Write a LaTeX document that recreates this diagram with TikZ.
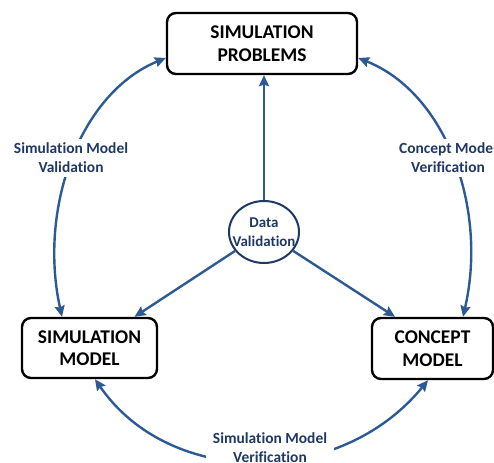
\documentclass[tikz,border=0pt]{standalone}
\usepackage{fontspec}
\setmainfont{Carlito}[Ligatures={NoCommon,NoRequired}]
\usetikzlibrary{arrows.meta,shapes.geometric,calc}
\definecolor{arrowblue}{HTML}{2E5A94}
\definecolor{navy}{HTML}{1F3864}
\begin{document}
\begin{tikzpicture}[x=1bp,y=1bp,
  box/.style={draw=black,line width=2.4bp,rounded corners=9bp,font=\fontsize{19.5}{22.5}\selectfont\bfseries,align=center,inner sep=0pt},
  conn/.style={draw=arrowblue,line width=2.4bp,-{Stealth[length=11bp,width=10bp,inset=1.5bp]}},
  dconn/.style={draw=arrowblue,line width=2.4bp,{Stealth[length=11bp,width=10bp,inset=1.5bp]}-{Stealth[length=11bp,width=10bp,inset=1.5bp]}},
  lbl/.style={fill=white,text=navy,font=\fontsize{15.5}{19}\selectfont\bfseries,align=center,inner sep=4bp}]
\useasboundingbox (0,0) rectangle (494,463);
\fill[white] (0,0) rectangle (494,463);

\node[box,minimum width=190bp,minimum height=61bp] (top) at (262,419.5) {SIMULATION\\PROBLEMS};
\node[box,minimum width=135bp,minimum height=60bp] (left) at (89.5,115) {SIMULATION\\MODEL};
\node[box,minimum width=121bp,minimum height=61bp] (right) at (432.5,114.5) {CONCEPT\\MODEL};
\node[ellipse,draw=navy,line width=2bp,minimum width=70bp,minimum height=62bp,inner sep=0pt,
      text=navy,align=center,font=\fontsize{15}{19.5}\selectfont\bfseries] (data) at (264,231)
      {\makebox[0pt]{Data}\\\makebox[0pt]{Validation}};

% straight connectors
\draw[conn] (data.north) -- (data.north |- top.south);
\draw[conn] (data) -- ([xshift=45bp]left.north);
\draw[conn] (data) -- ([xshift=-37.5bp]right.north);

% curved double-headed connectors
\coordinate (lb) at ([xshift=-27.5bp]left.north);
\coordinate (tl) at ([yshift=-14.5bp]top.west);
\coordinate (tr) at ([yshift=-14.5bp]top.east);
\coordinate (rt) at ([xshift=30.5bp]right.north);
\coordinate (lbs) at ([xshift=5.5bp]left.south);
\coordinate (rbs) at ([xshift=-4.5bp]right.south);

\draw[dconn] (lb) .. controls (38,255) and (80,370) .. (tl);
\draw[dconn] (tr) .. controls (446,370) and (488,255) .. (rt);
\draw[dconn] (lbs) .. controls (170,-25) and (340,-25) .. (rbs);

% labels
\node[lbl] (lval) at (71,305) {Simulation Model\\Validation};
\node[lbl] (rver) at (448,305) {Concept Model\\Verification};
\node[lbl,inner sep=7bp] (bver) at (270,15) {Simulation Model\\Verification};
\end{tikzpicture}
\end{document}
